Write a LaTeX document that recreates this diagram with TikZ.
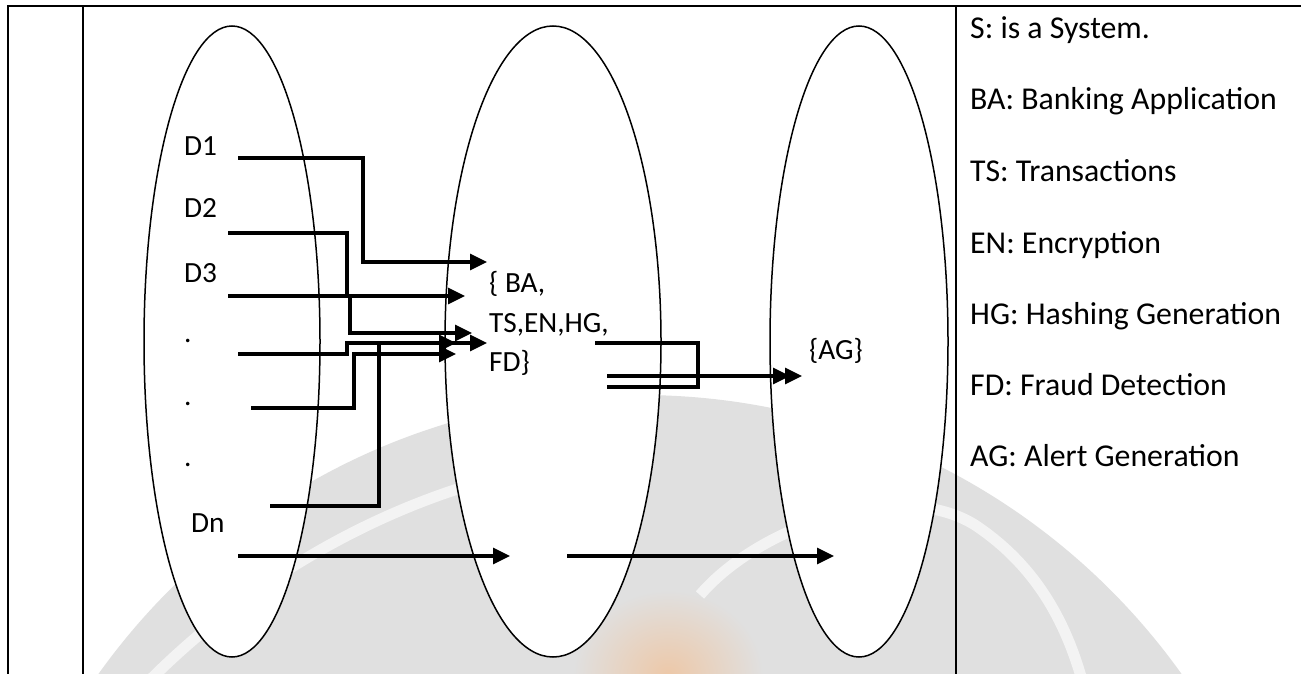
\documentclass[tikz,border=0pt]{standalone}
\usepackage{fontspec}
\setmainfont{Carlito}
\usetikzlibrary{arrows.meta}
\definecolor{wmgray}{HTML}{E0E0E0}
\definecolor{wmorange}{HTML}{EDC8A8}
\begin{document}
\begin{tikzpicture}[x=1pt,y=-1pt,
  lbl/.style={inner sep=0pt, anchor=base west, font=\fontsize{29.3}{35}\selectfont},
  key/.style={inner sep=0pt, anchor=base west, font=\fontsize{31.8}{38}\selectfont},
  setshape/.style={draw=black, line width=1.5pt, fill=white},
  flow/.style={draw=black, line width=3.1pt, -{Triangle[length=17pt,width=16pt]}},
  wire/.style={draw=black, line width=3.1pt},
  frame/.style={draw=black, line width=2.4pt},
  wmstripe/.style={draw=white!60!wmgray, line width=11pt}]
\useasboundingbox (0,0) rectangle (1301,674);
\fill[white] (0,0) rectangle (1301,674);
% watermark
\begin{scope}
  \clip (0,0) rectangle (1301,674);
  \fill[wmgray] (640,1060) circle [radius=665pt];
  \shade[inner color=wmorange, outer color=wmgray] (668,675) ellipse [x radius=95pt, y radius=85pt];
  \draw[wmstripe] (150,680) .. controls (230,600) and (340,525) .. (470,485);
  \draw[wmstripe] (700,595) .. controls (760,525) and (900,478) .. (975,525) .. controls (1035,565) and (1065,620) .. (1082,680);
\end{scope}
% sets
\draw[setshape] (232,341.5) ellipse [x radius=88pt, y radius=315.5pt];
\draw[setshape] (553,341.5) ellipse [x radius=108pt, y radius=315.5pt];
\draw[setshape] (859,341.5) ellipse [x radius=89pt, y radius=315.5pt];
% table
\draw[frame] (8,674) -- (8,6) -- (1301,6);
\draw[frame] (83,6) -- (83,674);
\draw[frame] (956,6) -- (956,674);
% labels
\node[lbl] (D1) at (184,156) {D1};
\node[lbl] (D2) at (184,217) {D2};
\node[lbl] (D3) at (184,282) {D3};
\node[lbl] (dot1) at (184,342) {.};
\node[lbl] (dot2) at (184,405) {.};
\node[lbl] (dot3) at (184,466) {.};
\node[lbl] (Dn) at (191,532) {Dn};
\node[lbl] (s1) at (489,292) {\{ BA,};
\node[lbl] (s2) at (489,332) {TS,EN,HG,};
\node[lbl] (s3) at (489,371) {FD\}};
\node[lbl] (ag) at (809,359) {\{AG\}};
\node[key] (k1) at (970,39) {S: is a System.};
\node[key] (k2) at (970,110) {BA: Banking Application};
\node[key] (k3) at (970,181) {TS: Transactions};
\node[key] (k4) at (970,253) {EN: Encryption};
\node[key] (k5) at (970,324) {HG: Hashing Generation};
\node[key] (k6) at (970,395) {FD: Fraud Detection};
\node[key] (k7) at (970,466) {AG: Alert Generation};
% connector points
\coordinate (d1s) at (238,158); \coordinate (d1a) at (363,158); \coordinate (d1b) at (363,262); \coordinate (d1e) at (487,262);
\coordinate (d2s) at (228,233); \coordinate (d2a) at (347,233); \coordinate (d2b) at (347,296); \coordinate (d2c) at (350,296); \coordinate (d2d) at (350,333); \coordinate (d2e) at (472,333);
\coordinate (d3s) at (228,296); \coordinate (d3e) at (465,296);
\coordinate (p1s) at (238,354); \coordinate (p1a) at (347,354); \coordinate (p1b) at (347,343); \coordinate (p1e) at (487,343);
\coordinate (p2s) at (251,408); \coordinate (p2a) at (354,408); \coordinate (p2b) at (354,354); \coordinate (p2e) at (456,354);
\coordinate (p3s) at (270,506); \coordinate (p3a) at (379,506); \coordinate (p3b) at (379,343); \coordinate (p3e) at (456,343);
\coordinate (ns) at (238,556); \coordinate (ne) at (510,556);
\coordinate (ms) at (567,556); \coordinate (me) at (834,556);
\coordinate (ra) at (595,343); \coordinate (rak) at (698,343); \coordinate (rj) at (698,376); \coordinate (re1) at (790,376);
\coordinate (rb) at (607,376); \coordinate (re2) at (802,376);
\coordinate (rc) at (607,387); \coordinate (rck) at (698,387);
% connectors
\draw[flow] (d1s) -- (d1a) -- (d1b) -- (d1e);
\draw[flow] (d2s) -- (d2a) -- (d2b) -- (d2c) -- (d2d) -- (d2e);
\draw[flow] (d3s) -- (d3e);
\draw[flow] (p1s) -- (p1a) -- (p1b) -- (p1e);
\draw[flow] (p2s) -- (p2a) -- (p2b) -- (p2e);
\draw[flow] (p3s) -- (p3a) -- (p3b) -- (p3e);
\draw[flow] (ns) -- (ne);
\draw[flow] (ms) -- (me);
\draw[flow] (ra) -- (rak) -- (rj) -- (re1);
\draw[flow] (rb) -- (re2);
\draw[wire] (rc) -- (rck) -- (rj);
\end{tikzpicture}
\end{document}
